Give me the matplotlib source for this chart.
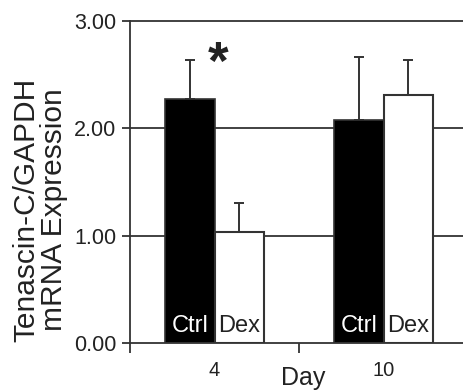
import matplotlib
matplotlib.use("Agg")
import matplotlib.pyplot as plt
import numpy as np

days = ["4", "10"]
groups = ["Ctrl", "Dex"]
ctrl_vals = [2.27, 2.08]
ctrl_err = [0.37, 0.58]
dex_vals = [1.03, 2.31]
dex_err = [0.27, 0.33]
yticks = [0.0, 1.0, 2.0, 3.0]
ytick_labels = ["0.00", "1.00", "2.00", "3.00"]

plt.rcParams['font.family'] = ['Liberation Sans', 'DejaVu Sans']

fig = plt.figure(figsize=(4.63, 3.92), dpi=100)
ax = fig.add_axes([130/463, 49/392, 338/463, 322/392])

x = np.arange(len(days))
w = 0.29
lc = '#333333'
tc = '#222222'
ax.set_axisbelow(True)
for yv in yticks[1:]:
    ax.axhline(yv, color=lc, lw=1.3, zorder=0, clip_on=False)

ax.bar(x - w/2, ctrl_vals, w, color='black', edgecolor=lc, lw=1.2, zorder=2)
ax.bar(x + w/2, dex_vals, w, color='white', edgecolor=lc, lw=1.5, zorder=2)
ax.errorbar(x - w/2, ctrl_vals, yerr=[np.zeros(2), ctrl_err], fmt='none',
            ecolor=lc, elinewidth=1.4, capsize=3.6, capthick=1.4, zorder=1)
ax.errorbar(x + w/2, dex_vals, yerr=[np.zeros(2), dex_err], fmt='none',
            ecolor=lc, elinewidth=1.4, capsize=3.6, capthick=1.4, zorder=1)

for i in range(len(days)):
    ax.text(x[i] - w/2, 0.16, groups[0], color='white', ha='center', va='center', fontsize=17, zorder=3)
    ax.text(x[i] + w/2, 0.16, groups[1], color=tc, ha='center', va='center', fontsize=17, zorder=3)

ax.text(0.02, 2.59, "*", ha='center', va='center', fontsize=38, fontweight='bold', color=tc)

ax.set_xlim(-0.5, 1.5)
ax.set_ylim(0, 3)
ax.set_yticks(yticks)
ax.set_yticklabels(ytick_labels, fontsize=15.5, color=tc)
ax.set_xticks(x)
ax.set_xticklabels(days, fontsize=14.5, color=tc)
ax.set_xticks([-0.5, 0.5, 1.5], minor=True)
ax.tick_params(axis='x', which='major', length=0, pad=13)
ax.tick_params(axis='x', which='minor', length=7, width=1.3, color=lc, direction='out')
ax.tick_params(axis='y', length=6, width=1.3, color=lc, pad=4)

for s in ['top', 'right']:
    ax.spines[s].set_visible(False)
for s in ['left', 'bottom']:
    ax.spines[s].set_color(lc)
    ax.spines[s].set_linewidth(1.3)

fig.text(40/463, 1 - 210/392, "Tenascin-C/GAPDH\nmRNA Expression", rotation=90,
         ha='center', va='center', fontsize=21.5, linespacing=0.98, color=tc)
fig.text(303/463, 1 - 378/392, "Day", ha='center', va='center', fontsize=18, color=tc)

fig.savefig("out.png", dpi=100)
